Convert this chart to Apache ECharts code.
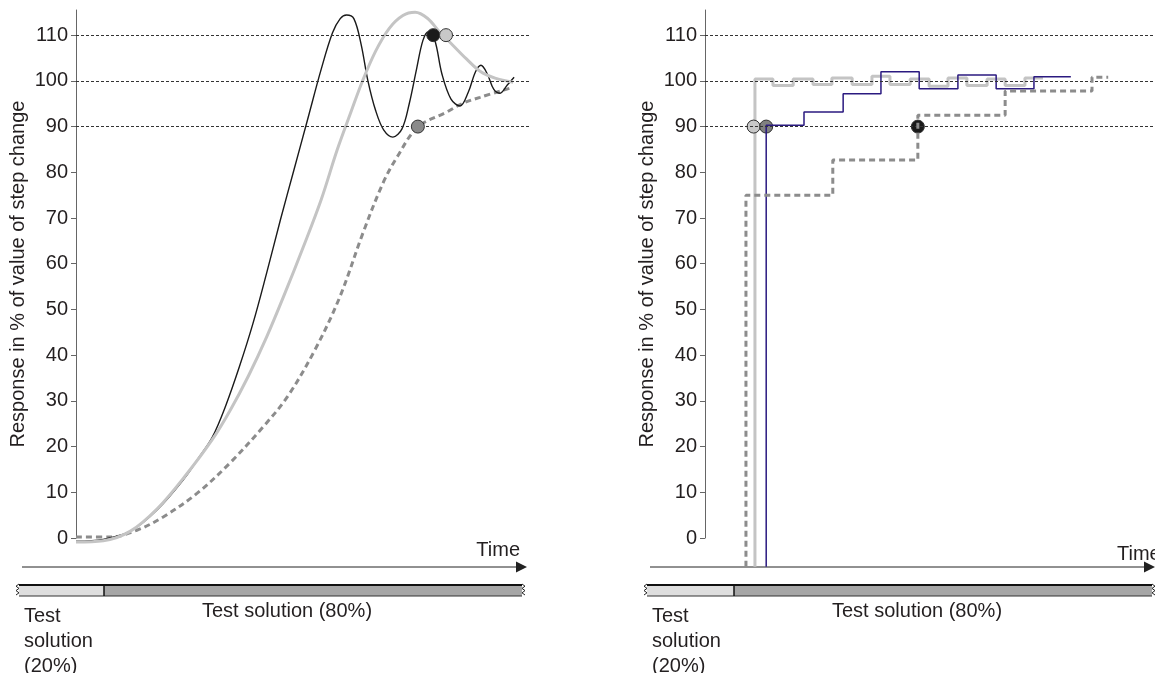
<!DOCTYPE html>
<html>
<head>
<meta charset="utf-8">
<script src="https://cdn.jsdelivr.net/npm/echarts@6/dist/echarts.min.js"></script>
<style>
html, body { margin: 0; padding: 0; background: #fff; }
#main { width: 1155px; height: 673px; }
</style>
</head>
<body>
<div id="main"></div>
<script>
// y axis ticks, shared by both panels
var yTicks = [0, 10, 20, 30, 40, 50, 60, 70, 80, 90, 100, 110];
var refLines = [90, 100, 110];
var yName = 'Response in % of value of step change';
var timeName = 'Time';
var phaseShort = 'Test\nsolution\n(20%)';
var phaseLong = 'Test solution (80%)';

// left panel: continuous sensor responses [time, %]
var blackCurve = [[0,-0.7],[6,-0.3],[12,1.5],[18,6.3],[24,13.2],[27,17.5],[30,22],[33,29],[36,37.5],[39,47],[42,58],[45,69.5],[48,80.5],[51,91.5],[54,102.5],[56.5,110.5],[58.2,113.6],[59.6,114.4],[61.2,113.6],[62.8,108],[64.3,100],[66,93.5],[67.8,89.2],[69.8,87.7],[71.8,89.5],[73.4,95],[75,102.5],[76.4,108.8],[77.6,110.7],[79,109],[80.6,101.5],[82.6,96],[84.6,94.5],[86.4,97.5],[88,102],[89.2,103.4],[90.6,101.5],[92,98.2],[93.4,97.3],[95,99.1],[96.5,100.8]];
var grayCurve = [[0,-0.9],[6,-0.6],[12,1.5],[18,6.5],[24,13.5],[30,21.5],[34,28],[38,35.5],[42,44],[46,53.5],[50,63.5],[54,74],[57.5,84.8],[60.5,93],[63,99.7],[66,106.5],[69,111.5],[72,114.3],[74.7,115.0],[77.4,113.7],[80,110.8],[83,107.8],[86,104.8],[89,102.1],[92.3,100.6],[96.3,99.7]];
var dashCurve = [[0,0.2],[7.5,0.2],[13.4,1.7],[19.2,4.6],[26.7,9.8],[33.9,16.4],[41.2,24.3],[46.5,30.8],[52.6,41.1],[58.1,52.7],[63.2,66.7],[67.6,77.6],[70.7,83.3],[75.3,89.9],[81.7,93.2],[85.2,95.1],[89.0,96.4],[96.3,98.6]];
var leftBlackDot = [[78.7, 110]];
var leftGrayDot = [[81.5, 110]];
var leftDashDot = [[75.3, 90]];

// right panel: stepwise (sampled) responses [time, %]
var grayStep = [[11.1,-6.3],[11.1,100.4],[15.1,99.0],[19.6,100.4],[24.0,99.2],[28.2,100.6],[32.7,99.2],[37.1,101.0],[41.1,99.2],[45.6,100.4],[49.8,98.8],[54.0,100.6],[58.2,99.0],[62.7,100.4],[66.7,99.0],[71.1,100.6],[75.1,100.6]];
var blueStep = [[13.6,-6.3],[13.6,90.3],[22.0,93.2],[30.7,97.2],[39.1,102.0],[47.6,98.3],[56.2,101.3],[64.7,98.3],[73.1,100.9],[81.3,100.9]];
var dashStep = [[9.1,-6.3],[9.1,75.0],[28.4,82.7],[47.3,92.5],[66.7,97.8],[86.0,100.8],[89.6,100.8]];
var rightGrayDot = [[10.8, 90]];
var rightBlueDot = [[13.6, 90]];
var rightDashDot = [[47.3, 90]];

var FONT = '"Liberation Sans", Arial, sans-serif';
var TXT = '#231f20';

function yAxisOf(i) {
    return {
        gridIndex: i, type: 'value', min: 0, max: 115.5,
        name: yName, nameLocation: 'middle', nameGap: 48,
        nameTextStyle: { fontFamily: FONT, fontSize: 20, color: TXT },
        axisLine: { show: true, lineStyle: { color: '#666', width: 1 } },
        axisTick: { show: true, length: 5, customValues: yTicks, lineStyle: { color: '#666' } },
        axisLabel: { customValues: yTicks, fontFamily: FONT, fontSize: 20, color: TXT, margin: 8 },
        splitLine: { show: false }
    };
}
function xAxisOf(i) {
    return { gridIndex: i, type: 'value', min: 0, max: 100, show: false };
}
function refMark() {
    return {
        symbol: 'none', silent: true, label: { show: false },
        lineStyle: { type: [3, 2], color: '#333', width: 1 },
        data: refLines.map(function (v) { return { yAxis: v }; })
    };
}
function dot(i, data, color, z) {
    return {
        type: 'scatter', xAxisIndex: i, yAxisIndex: i, data: data, symbolSize: 13, z: z,
        itemStyle: { color: color, borderColor: '#333', borderWidth: 1, opacity: 1 }
    };
}
function zigzag(x, dir) {
    var pts = [], y = 584, k = 0;
    while (y <= 597) { pts.push([x + (k % 2 ? dir * 3 : 0), y]); y += 2.2; k++; }
    return { type: 'polyline', shape: { points: pts }, style: { stroke: '#222', lineWidth: 1, fill: null } };
}
function timeBar(x0, xSplit, x1, xTip, labelX, longX) {
    return [
        { type: 'line', shape: { x1: x0 + 3, y1: 567, x2: xTip - 10, y2: 567 }, style: { stroke: '#222', lineWidth: 1 } },
        { type: 'polygon', shape: { points: [[xTip - 11, 561.5], [xTip, 567], [xTip - 11, 572.5]] }, style: { fill: '#222' } },
        { type: 'rect', shape: { x: x0, y: 585, width: xSplit - x0, height: 11 }, style: { fill: '#dedede' } },
        { type: 'rect', shape: { x: xSplit, y: 585, width: x1 - xSplit, height: 11 }, style: { fill: '#a6a6a6' } },
        { type: 'line', shape: { x1: x0, y1: 585, x2: x1, y2: 585 }, style: { stroke: '#111', lineWidth: 2 } },
        { type: 'line', shape: { x1: x0, y1: 596, x2: x1, y2: 596 }, style: { stroke: '#333', lineWidth: 1 } },
        { type: 'line', shape: { x1: xSplit, y1: 585, x2: xSplit, y2: 596 }, style: { stroke: '#111', lineWidth: 1.5 } },
        zigzag(x0, -1), zigzag(x1, 1),
        { type: 'text', style: { text: phaseShort, x: labelX, y: 604, font: '20px ' + FONT, fill: TXT, lineHeight: 25, textVerticalAlign: 'top' } },
        { type: 'text', style: { text: phaseLong, x: longX, y: 611, font: '20px ' + FONT, fill: TXT, textAlign: 'center', textVerticalAlign: 'middle' } }
    ];
}

var chart = echarts.init(document.getElementById('main'));
var option = {
    animation: false,
    grid: [
        { left: 76, top: 10, width: 454, height: 528 },
        { left: 705, top: 10, width: 450, height: 528 }
    ],
    xAxis: [xAxisOf(0), xAxisOf(1)],
    yAxis: [yAxisOf(0), yAxisOf(1)],
    series: [
        { type: 'line', xAxisIndex: 0, yAxisIndex: 0, data: dashCurve, smooth: 0.35, showSymbol: false, clip: false, z: 2,
          lineStyle: { color: '#8c8c8c', width: 3, type: [6, 4] }, markLine: refMark() },
        { type: 'line', xAxisIndex: 0, yAxisIndex: 0, data: blackCurve, smooth: 0.35, showSymbol: false, clip: false, z: 3,
          lineStyle: { color: '#1a1a1a', width: 1.4 } },
        { type: 'line', xAxisIndex: 0, yAxisIndex: 0, data: grayCurve, smooth: 0.35, showSymbol: false, clip: false, z: 4,
          lineStyle: { color: '#c4c4c4', width: 3 } },
        dot(0, leftDashDot, '#8a8a8a', 6),
        dot(0, leftBlackDot, '#1a1a1a', 6),
        dot(0, leftGrayDot, '#c8c8c8', 6),

        { type: 'line', xAxisIndex: 1, yAxisIndex: 1, data: grayStep, step: 'end', showSymbol: false, clip: false, z: 2,
          lineStyle: { color: '#c4c4c4', width: 3 }, markLine: refMark() },
        dot(1, rightGrayDot, '#c8c8c8', 3),
        dot(1, rightBlueDot, '#808080', 3),
        dot(1, rightDashDot, '#1a1a1a', 3),
        { type: 'line', xAxisIndex: 1, yAxisIndex: 1, data: blueStep, step: 'end', showSymbol: false, clip: false, z: 4,
          lineStyle: { color: '#2b1a80', width: 1.5 } },
        { type: 'line', xAxisIndex: 1, yAxisIndex: 1, data: dashStep, step: 'end', showSymbol: false, clip: false, z: 5,
          lineStyle: { color: '#8c8c8c', width: 3, type: [6, 4] } }
    ],
    graphic: timeBar(19, 104, 522, 527, 24, 287)
        .concat(timeBar(647, 734, 1152, 1155, 652, 917))
        .concat([
            { type: 'text', style: { text: timeName, x: 520, y: 550, font: '20px ' + FONT, fill: TXT, textAlign: 'right', textVerticalAlign: 'middle' } },
            { type: 'text', style: { text: timeName, x: 1117, y: 554, font: '20px ' + FONT, fill: TXT, textAlign: 'left', textVerticalAlign: 'middle' } }
        ])
};
chart.setOption(option);
</script>
</body>
</html>
